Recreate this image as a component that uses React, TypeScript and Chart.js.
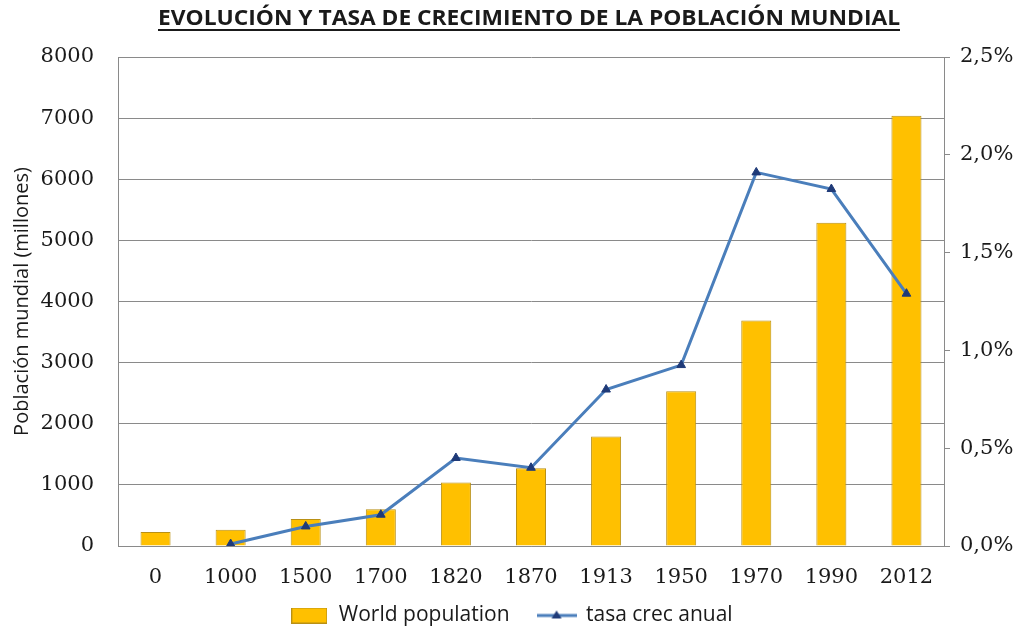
import React, { useEffect, useRef } from "react";
import { Chart, registerables } from "chart.js";

Chart.register(...registerables);

const categories = ["0", "1000", "1500", "1700", "1820", "1870", "1913", "1950", "1970", "1990", "2012"];
const population = [230, 265, 440, 600, 1040, 1270, 1790, 2530, 3690, 5290, 7040];
const growthRate = [null, 0.01, 0.1, 0.16, 0.45, 0.4, 0.8, 0.925, 1.91, 1.825, 1.29];
const titleText = "EVOLUCIÓN Y TASA DE CRECIMIENTO DE LA POBLACIÓN MUNDIAL";
const yTitle = "Población mundial (millones)";
const popLabel = "World population";
const rateLabel = "tasa crec anual";

const BAR_COLOR = "#FFC000";
const BAR_BORDER = "#B99015";
const LINE_COLOR = "#4A7EBB";
const MARKER_COLOR = "#1F3A78";
const GRID = "#8A8A8A";
const TEXT = "#1A1A1A";

function makeBarSwatch() {
  const c = document.createElement("canvas");
  c.width = 36;
  c.height = 16;
  const x = c.getContext("2d")!;
  x.fillStyle = BAR_COLOR;
  x.fillRect(1, 1, 34, 14);
  x.strokeStyle = BAR_BORDER;
  x.lineWidth = 1;
  x.strokeRect(0.5, 0.5, 35, 15);
  return c;
}

function makeLineSwatch() {
  const c = document.createElement("canvas");
  c.width = 40;
  c.height = 16;
  const x = c.getContext("2d")!;
  x.strokeStyle = LINE_COLOR;
  x.lineWidth = 3;
  x.beginPath();
  x.moveTo(0, 8);
  x.lineTo(40, 8);
  x.stroke();
  x.fillStyle = MARKER_COLOR;
  x.beginPath();
  x.moveTo(20, 3);
  x.lineTo(25, 11);
  x.lineTo(15, 11);
  x.closePath();
  x.fill();
  return c;
}

const titlePlugin = {
  id: "underlinedTitle",
  afterLayout(chart: any) {
    if (chart.legend) {
      chart.legend.top += 6;
      chart.legend.bottom += 6;
    }
    const xs = chart.scales.x;
    if (xs) {
      xs.bottom += 45;
    }
  },
  afterDraw(chart: any) {
    const ctx = chart.ctx;
    ctx.save();
    ctx.font = "bold 22px 'Open Sans'";
    const w = ctx.measureText(titleText).width;
    const target = 742;
    const sx = target / w;
    const cx = 529;
    ctx.translate(cx, 0);
    ctx.scale(sx, 1);
    ctx.fillStyle = TEXT;
    ctx.textAlign = "center";
    ctx.textBaseline = "alphabetic";
    ctx.fillText(titleText, 0, 25);
    ctx.restore();
    ctx.save();
    ctx.strokeStyle = TEXT;
    ctx.lineWidth = 2;
    ctx.beginPath();
    ctx.moveTo(cx - target / 2, 30);
    ctx.lineTo(cx + target / 2, 30);
    ctx.stroke();
    ctx.restore();
  },
};

export default function App() {
  const ref = useRef<HTMLCanvasElement | null>(null);

  useEffect(() => {
    document.body.style.margin = "0";
    const barSwatch = makeBarSwatch();
    const lineSwatch = makeLineSwatch();
    const tickFont = { family: "'DejaVu Serif'", size: 21 };
    const chart = new Chart(ref.current!, {
      type: "bar",
      data: {
        labels: categories,
        datasets: [
          {
            type: "bar",
            label: popLabel,
            data: population,
            yAxisID: "y",
            backgroundColor: BAR_COLOR,
            borderColor: BAR_BORDER,
            borderWidth: 1,
            barPercentage: 0.4,
            categoryPercentage: 1,
            order: 1,
          },
          {
            type: "line",
            label: rateLabel,
            data: growthRate as any,
            yAxisID: "y1",
            borderColor: LINE_COLOR,
            borderWidth: 3,
            pointStyle: "triangle",
            pointRadius: 5,
            pointBackgroundColor: MARKER_COLOR,
            pointBorderColor: MARKER_COLOR,
            pointBorderWidth: 1,
            tension: 0,
            spanGaps: false,
            order: 0,
          } as any,
        ],
      },
      options: {
        animation: false,
        responsive: true,
        maintainAspectRatio: false,
        layout: { padding: { top: 57, left: 0, right: 0, bottom: 0 } },
        plugins: {
          title: { display: false },
          tooltip: { enabled: false },
          legend: {
            position: "bottom",
            labels: {
              usePointStyle: true,
              pointStyleWidth: 38,
              color: TEXT,
              font: { family: "'Open Sans'", size: 21 },
              padding: 28,
              sort: (a: any, b: any) => a.datasetIndex - b.datasetIndex,
              generateLabels: (chart: any) => {
                const items = Chart.defaults.plugins.legend.labels.generateLabels(chart);
                items.forEach((it: any) => {
                  it.pointStyle = it.datasetIndex === 0 ? barSwatch : lineSwatch;
                });
                return items;
              },
            },
          },
        },
        scales: {
          x: {
            grid: { display: false, drawTicks: false },
            border: { display: true, color: GRID },
            ticks: { color: TEXT, font: tickFont, padding: 19 },
            afterFit: (s: any) => {
              s.height = 25;
            },
          },
          y: {
            position: "left",
            min: 0,
            max: 8000,
            ticks: {
              stepSize: 1000,
              color: TEXT,
              font: tickFont,
              padding: 24,
              callback: (v: any) => String(v),
            },
            grid: { color: GRID, drawTicks: false, lineWidth: 1 },
            border: { display: true, color: GRID },
            title: {
              display: true,
              text: yTitle,
              color: TEXT,
              font: { family: "'Open Sans'", size: 20 },
              padding: { top: 10, bottom: 0 },
            },
            afterFit: (s: any) => {
              s.width = 118;
            },
          },
          y1: {
            position: "right",
            min: 0,
            max: 2.5,
            ticks: {
              stepSize: 0.5,
              color: TEXT,
              font: tickFont,
              padding: 10,
              callback: (v: any) => Number(v).toFixed(1).replace(".", ",") + "%",
            },
            grid: { drawOnChartArea: false, drawTicks: true, tickLength: 6, color: GRID },
            border: { display: true, color: GRID },
            afterFit: (s: any) => {
              s.width = 79;
            },
          },
        },
      },
      plugins: [titlePlugin],
    } as any);
    return () => chart.destroy();
  }, []);

  return (
    <div style={{ width: 1023, height: 630, position: "relative", background: "#fff" }}>
      <canvas ref={ref} />
    </div>
  );
}
